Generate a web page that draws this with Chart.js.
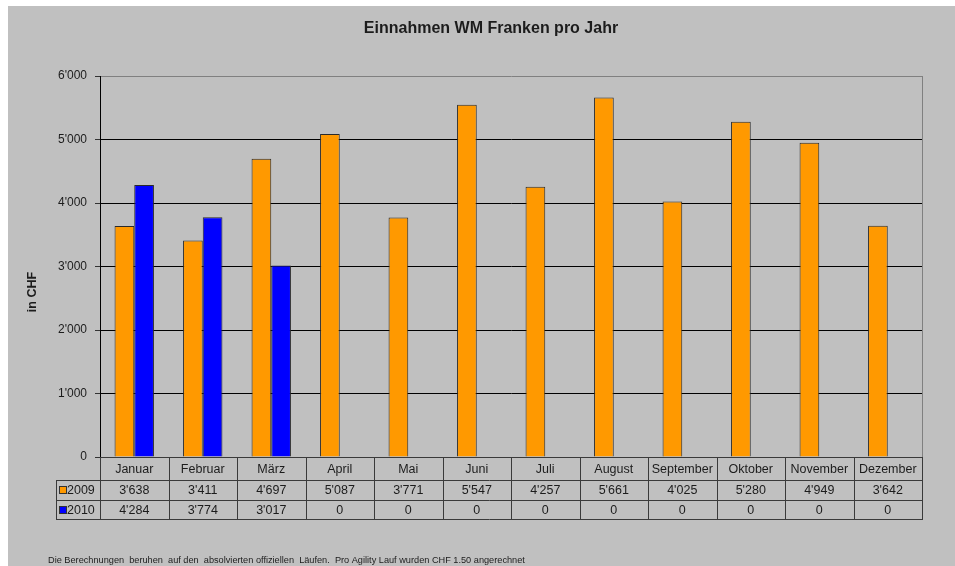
<!DOCTYPE html>
<html>
<head>
<meta charset="utf-8">
<title>Einnahmen WM Franken pro Jahr</title>
<script src="https://cdn.jsdelivr.net/npm/chart.js@4.4.0/dist/chart.umd.min.js"></script>
<style>
	html, body { margin: 0; padding: 0; background: #ffffff; }
	#wrap { width: 955px; height: 566px; }
</style>
</head>
<body>
<div id="wrap"><canvas id="chart" width="955" height="566"></canvas></div>
<script>
var months = ["Januar", "Februar", "März", "April", "Mai", "Juni", "Juli", "August", "September", "Oktober", "November", "Dezember"];
var values2009 = [3638, 3411, 4697, 5087, 3771, 5547, 4257, 5661, 4025, 5280, 4949, 3642];
var values2010 = [4284, 3774, 3017, 0, 0, 0, 0, 0, 0, 0, 0, 0];
var seriesNames = ["2009", "2010"];
var seriesColors = ["#ff9900", "#0000ff"];
var yMin = 0;
var yMax = 6000;
var yStep = 1000;

var titleText = "Einnahmen WM Franken pro Jahr";
var yTitleText = "in CHF";
var footText = "Die Berechnungen  beruhen  auf den  absolvierten offiziellen  Läufen.  Pro Agility Lauf wurden CHF 1.50 angerechnet";

var fontFamily = "'Liberation Sans', Arial, sans-serif";
var textColor = "#1c1c1c";

function fmt(v) {
	return String(v).replace(/\B(?=(\d{3})+(?!\d))/g, "'");
}

// background, title, y title, data table and footnote
var tablePlugin = {
	id: "dataTable",
	beforeDraw: function (chart) {
		var c = chart.ctx;
		c.save();
		c.fillStyle = "#ffffff";
		c.fillRect(0, 0, chart.width, chart.height);
		c.fillStyle = "#c0c0c0";
		c.fillRect(8, 6, chart.width - 8, chart.height - 6);
		c.restore();
	},
	afterDraw: function (chart) {
		var c = chart.ctx;
		var a = chart.chartArea;
		var x = chart.scales.x;
		var step = (a.right - a.left) / months.length;
		var rows = [a.bottom, a.bottom + 23, a.bottom + 43, a.bottom + 62];
		var labelLeft = 56;
		var series = [values2009, values2010];

		c.save();

		// plot area right border
		c.strokeStyle = "#808080";
		c.lineWidth = 1;
		c.beginPath();
		c.moveTo(Math.round(a.right) + 0.5, a.top);
		c.lineTo(Math.round(a.right) + 0.5, a.bottom);
		c.stroke();

		// table grid
		c.strokeStyle = "#3a3a3a";
		c.beginPath();
		for (var r = 1; r < rows.length; r++) {
			c.moveTo(labelLeft, Math.round(rows[r]) + 0.5);
			c.lineTo(a.right + 1, Math.round(rows[r]) + 0.5);
		}
		c.moveTo(labelLeft + 0.5, rows[1]);
		c.lineTo(labelLeft + 0.5, rows[3] + 1);
		for (var i = 0; i <= months.length; i++) {
			var xx = Math.round(a.left + i * step) + 0.5;
			c.moveTo(xx, rows[0]);
			c.lineTo(xx, rows[3] + 1);
		}
		c.stroke();

		// header and values
		c.fillStyle = textColor;
		c.font = "12.5px " + fontFamily;
		c.textAlign = "center";
		c.textBaseline = "middle";
		for (var m = 0; m < months.length; m++) {
			var cx = x.getPixelForValue(m);
			c.fillText(months[m], cx, (rows[0] + rows[1]) / 2 + 1);
			for (var s = 0; s < series.length; s++) {
				c.fillText(fmt(series[s][m]), cx, (rows[s + 1] + rows[s + 2]) / 2 + 1);
			}
		}

		// row labels with legend keys
		c.textAlign = "left";
		for (var k = 0; k < seriesNames.length; k++) {
			var cy = (rows[k + 1] + rows[k + 2]) / 2;
			c.fillStyle = seriesColors[k];
			c.fillRect(60, Math.round(cy) - 3, 6, 6);
			c.strokeStyle = "#333333";
			c.strokeRect(59.5, Math.round(cy) - 3.5, 7, 7);
			c.fillStyle = textColor;
			c.fillText(seriesNames[k], 67, cy + 1);
		}

		// title
		c.textAlign = "center";
		c.font = "bold 16px " + fontFamily;
		c.fillText(titleText, 491, 29);

		// y axis title
		c.save();
		c.translate(33, 292);
		c.rotate(-Math.PI / 2);
		c.font = "bold 12.5px " + fontFamily;
		c.fillText(yTitleText, 0, 0);
		c.restore();

		// footnote
		c.textAlign = "left";
		c.font = "9.2px " + fontFamily;
		c.fillText(footText, 48, 560);

		c.restore();
	}
};

var ctx = document.getElementById("chart").getContext("2d");
var myChart = new Chart(ctx, {
	type: "bar",
	data: {
		labels: months,
		datasets: [
			{
				label: seriesNames[0],
				data: values2009,
				backgroundColor: seriesColors[0],
				borderColor: "#2a2a2a",
				borderWidth: 1,
			},
			{
				label: seriesNames[1],
				data: values2010,
				backgroundColor: seriesColors[1],
				borderColor: "#2a2a2a",
				borderWidth: 1,
			},
		],
	},
	options: {
		responsive: false,
		animation: false,
		devicePixelRatio: 1,
		layout: {
			padding: { left: 26, right: 33, top: 76, bottom: 109 },
		},
		datasets: {
			bar: {
				categoryPercentage: 0.575,
				barPercentage: 1.0,
			},
		},
		scales: {
			x: {
				display: false,
				offset: true,
			},
			y: {
				min: yMin,
				max: yMax,
				afterFit: function (scale) {
					scale.width = 74;
				},
				ticks: {
					stepSize: yStep,
					padding: 8,
					color: textColor,
					font: { family: fontFamily, size: 12 },
					callback: function (value) {
						return fmt(value);
					},
				},
				border: { display: true, color: "#000000", width: 1 },
				grid: {
					drawTicks: true,
					tickLength: 5,
					tickColor: "#333333",
					color: function (context) {
						if (context.tick && context.tick.value === yMax) return "#808080";
						if (context.tick && context.tick.value === yMin) return "#3a3a3a";
						return "#000000";
					},
				},
			},
		},
		plugins: {
			legend: { display: false },
			tooltip: { enabled: false },
			title: { display: false },
		},
	},
	plugins: [tablePlugin],
});
</script>
</body>
</html>
